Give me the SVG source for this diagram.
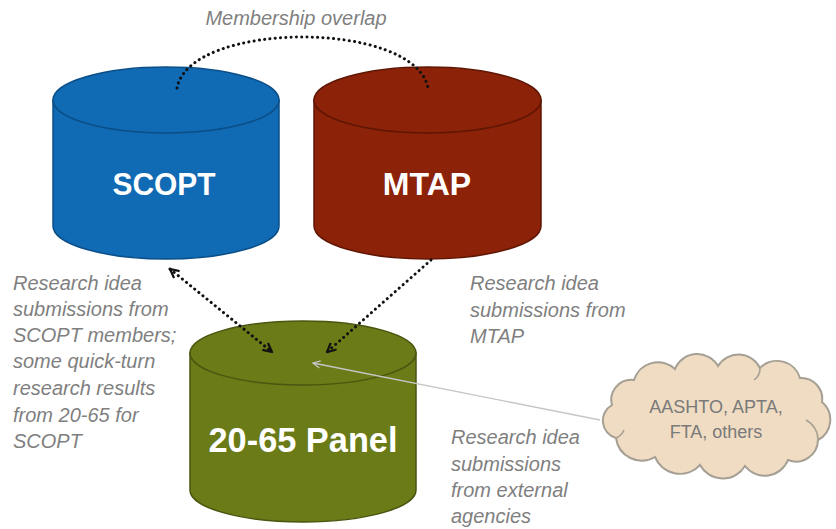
<svg xmlns="http://www.w3.org/2000/svg" width="836" height="529" viewBox="0 0 836 529">
  <style>
    .lbl { font-family: "Liberation Sans", Arial, sans-serif; font-style: italic; font-size: 20px; fill: #7f7f7f; }
    .big { font-family: "Liberation Sans", Arial, sans-serif; font-weight: bold; fill: #ffffff; text-anchor: middle; }
    .cloudtxt { font-family: "Liberation Sans", Arial, sans-serif; font-size: 18px; fill: #7a7a7a; text-anchor: middle; }
    .dots { fill: none; stroke: #111; stroke-width: 3; stroke-dasharray: 0.1 5.2; stroke-linecap: round; }
    .thin { fill: none; stroke: #c6c6c6; stroke-width: 1.3; }
  </style>
  <defs>
    <marker id="openArrow" viewBox="0 0 10 10" refX="9" refY="5" markerWidth="11" markerHeight="11" markerUnits="userSpaceOnUse" orient="auto-start-reverse">
      <path d="M1,1 L9,5 L1,9" fill="none" stroke="#111" stroke-width="2"/>
    </marker>
    <marker id="greyArrow" viewBox="0 0 10 10" refX="9" refY="5" markerWidth="9" markerHeight="9" markerUnits="userSpaceOnUse" orient="auto">
      <path d="M1,1 L9,5 L1,9" fill="none" stroke="#c6c6c6" stroke-width="1.4"/>
    </marker>
  </defs>
  <rect width="836" height="529" fill="#ffffff"/>

  <text class="lbl" x="296" y="25" text-anchor="middle">Membership overlap</text>

  <g id="scopt">
    <path d="M53,100 L53,226 A113,33 0 0 0 279,226 L279,100 Z" fill="#106ab4" stroke="#0b4f88" stroke-width="1.5"/>
    <ellipse cx="166" cy="100" rx="113" ry="33" fill="#106ab4" stroke="#0b4f88" stroke-width="1.5"/>
    <text class="big" x="164" y="195" font-size="32" textLength="103" lengthAdjust="spacingAndGlyphs">SCOPT</text>
  </g>

  <g id="mtap">
    <path d="M314,100 L314,226 A113.5,33 0 0 0 541,226 L541,100 Z" fill="#8c2207" stroke="#5f1604" stroke-width="1.5"/>
    <ellipse cx="427.5" cy="100" rx="113.5" ry="33" fill="#8c2207" stroke="#5f1604" stroke-width="1.5"/>
    <text class="big" x="427" y="195" font-size="32">MTAP</text>
  </g>

  <g id="panel">
    <path d="M190,353 L190,490 A113,32 0 0 0 416,490 L416,353 Z" fill="#6a7b18" stroke="#4a5610" stroke-width="1.5"/>
    <ellipse cx="303" cy="353" rx="113" ry="32" fill="#6a7b18" stroke="#4a5610" stroke-width="1.5"/>
    <text class="big" x="303" y="452" font-size="35" textLength="189" lengthAdjust="spacingAndGlyphs">20-65 Panel</text>
  </g>

  <g id="connectors">
    <path class="dots" d="M177,88 C190,20 415,20 428,88"/>
    <path class="dots" d="M170,269 L272,352" marker-start="url(#openArrow)" marker-end="url(#openArrow)"/>
    <path class="dots" d="M431,260 L327,352" marker-end="url(#openArrow)"/>
    <path class="thin" d="M600,420 L313,363" marker-end="url(#greyArrow)"/>
  </g>

  <g id="external">
    <path d="M616,438 A18,18 0 0 1 612,405 A20,20 0 0 1 634,380 A25,25 0 0 1 675,369 A24,24 0 0 1 718,366 A24,24 0 0 1 760,368 A24,24 0 0 1 800,378 A21,21 0 0 1 822,402 A23,23 0 0 1 818,440 A22,22 0 0 1 788,460 A25,25 0 0 1 745,466 A26,26 0 0 1 700,465 A27,27 0 0 1 655,457 A26,26 0 0 1 616,438 Z" fill="#efdcc2" stroke="#a59f94" stroke-width="2"/>
    <path d="M616,438 A14,14 0 0 0 624,430" fill="none" stroke="#a59f94" stroke-width="1.5"/>
    <path d="M818,440 A22,22 0 0 0 806,420" fill="none" stroke="#a59f94" stroke-width="1.5"/>
    <path d="M760,368 A14,14 0 0 1 754,380" fill="none" stroke="#a59f94" stroke-width="1.5"/>
    <text class="cloudtxt" x="716" y="413">AASHTO, APTA,</text>
    <text class="cloudtxt" x="716" y="438">FTA, others</text>
  </g>

  <g id="labels">
    <text class="lbl" x="13" y="290">Research idea</text>
    <text class="lbl" x="13" y="316">submissions from</text>
    <text class="lbl" x="13" y="342">SCOPT members;</text>
    <text class="lbl" x="13" y="368">some quick-turn</text>
    <text class="lbl" x="13" y="395">research results</text>
    <text class="lbl" x="13" y="422">from 20-65 for</text>
    <text class="lbl" x="13" y="448">SCOPT</text>

    <text class="lbl" x="470" y="290">Research idea</text>
    <text class="lbl" x="470" y="317">submissions from</text>
    <text class="lbl" x="470" y="343">MTAP</text>

    <text class="lbl" x="451" y="444">Research idea</text>
    <text class="lbl" x="451" y="471">submissions</text>
    <text class="lbl" x="451" y="497">from external</text>
    <text class="lbl" x="451" y="523">agencies</text>
  </g>
</svg>
